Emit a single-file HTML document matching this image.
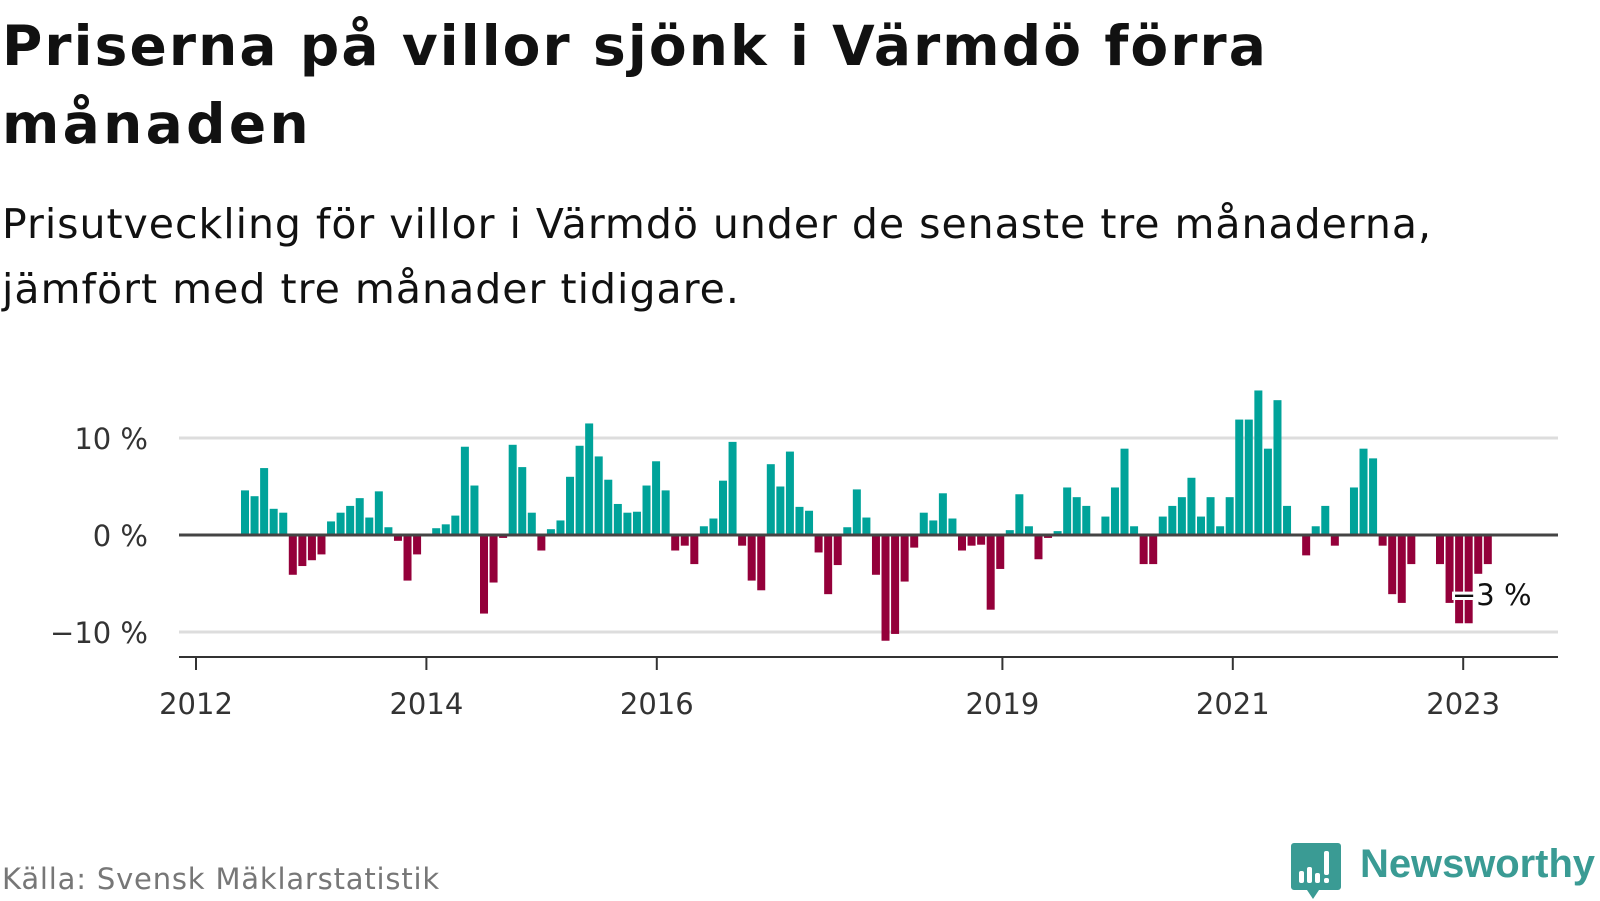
<!DOCTYPE html>
<html><head><meta charset="utf-8">
<style>
body{margin:0;background:#fff;width:1600px;height:900px;overflow:hidden;font-family:"DejaVu Sans","Liberation Sans",sans-serif;}
.ln{position:absolute;left:2px;white-space:nowrap;margin:0;color:#111}
.t{font-size:55px;font-weight:bold;}
.s{font-size:41px;}
#src{position:absolute;left:2px;top:862px;font-size:29px;color:#777;white-space:nowrap}
#logo{position:absolute;left:1291px;top:843px}
#logotext{position:absolute;left:1360px;top:842px;font-size:40px;font-weight:bold;color:#3a9b94;white-space:nowrap;font-family:"Liberation Sans",sans-serif}
</style></head><body>
<div>
<span class="ln t fit" data-w="1266" style="top:14px">Priserna på villor sjönk i Värmdö förra</span>
<span class="ln t fit" data-w="310" style="top:92px">månaden</span>
</div>
<div>
<span class="ln s fit" data-w="1430" style="top:200px">Prisutveckling för villor i Värmdö under de senaste tre månaderna,</span>
<span class="ln s fit" data-w="738" style="top:265px">jämfört med tre månader tidigare.</span>
</div>
<svg id="chart" width="1600" height="900" style="position:absolute;left:0;top:0"></svg>
<div id="src" class="fit" data-w="438">Källa: Svensk Mäklarstatistik</div>
<svg id="logo" width="50" height="58" viewBox="0 0 50 58">
<path d="M3 0H47A3 3 0 0 1 50 3V44A3 3 0 0 1 47 47H28L22 56L16 47H3A3 3 0 0 1 0 44V3A3 3 0 0 1 3 0Z" fill="#3a9b94"/>
<rect x="8" y="28" width="5" height="12" rx="2" fill="#fff"/><rect x="16" y="24" width="5" height="16" rx="2" fill="#fff"/><rect x="24" y="30" width="5" height="10" rx="2" fill="#fff"/><rect x="33" y="8" width="5" height="24" rx="2" fill="#fff"/><rect x="33" y="35" width="5" height="5" rx="2" fill="#fff"/>
</svg>
<div id="logotext" class="fit" data-w="235">Newsworthy</div>
<script>
const values=[4.6,4.0,6.9,2.7,2.3,-4.1,-3.2,-2.6,-2.0,1.4,2.3,3.0,3.8,1.8,4.5,0.8,-0.6,-4.7,-2.0,null,
0.7,1.1,2.0,9.1,5.1,-8.1,-4.9,-0.3,9.3,7.0,2.3,-1.6,0.6,1.5,6.0,9.2,11.5,8.1,5.7,3.2,2.3,2.4,
5.1,7.6,4.6,-1.6,-1.1,-3.0,0.9,1.7,5.6,9.6,-1.1,-4.7,-5.7,7.3,5.0,8.6,2.9,2.5,-1.8,-6.1,-3.1,
0.8,4.7,1.8,-4.1,-10.9,-10.2,-4.8,-1.3,2.3,1.5,4.3,1.7,-1.6,-1.1,-1.0,-7.7,-3.5,0.5,4.2,0.9,
-2.5,-0.3,0.4,4.9,3.9,3.0,null,1.9,4.9,8.9,0.9,-3.0,-3.0,1.9,3.0,3.9,5.9,1.9,3.9,0.9,3.9,
11.9,11.9,14.9,8.9,13.9,3.0,null,-2.1,0.9,3.0,-1.1,null,4.9,8.9,7.9,-1.1,-6.1,-7.0,-3.0,null,null,
-3.0,-7.0,-9.1,-9.1,-4.0,-3.0];
const yTicks=[10,0,-10];
const yTickLabels=["10 %","0 %","−10 %"];
const xTickYears=[2012,2014,2016,2019,2021,2023];
const lastLabel="−3 %";
const NS="http://www.w3.org/2000/svg";
const svg=document.getElementById('chart');
const y=v=>535-v*9.7;
const x=i=>241+i*9.56;
const xYear=yr=>196+(yr-2012)*115.2;
const FF='DejaVu Sans, Liberation Sans, sans-serif';
function mk(t,a,p){const e=document.createElementNS(NS,t);for(const k in a)e.setAttribute(k,a[k]);(p||svg).appendChild(e);return e;}
yTicks.forEach((t,i)=>{
 if(t!==0){const g=mk('line',{x1:179,x2:1558,y1:y(t),y2:y(t),stroke:'#ddd','stroke-width':3});
 
 }
 const l=mk('text',{x:148,y:y(t)+11,'text-anchor':'end','font-size':29,fill:'#333','font-family':FF});
 l.textContent=yTickLabels[i];
 
 
});
values.forEach((v,i)=>{
 if(v===null)return;
 const r=mk('rect',{x:x(i),width:8,y:v>=0?y(v):y(0),height:Math.abs(y(v)-y(0)),fill:v>=0?'#00a39a':'#94003a'});
 
 
});
const z=mk('line',{x1:179,x2:1558,y1:y(0),y2:y(0),stroke:'#444','stroke-width':3});


const ax=mk('line',{x1:179,x2:1558,y1:657,y2:657,stroke:'#333','stroke-width':2});


xTickYears.forEach(yr=>{
 const t=mk('line',{x1:xYear(yr),x2:xYear(yr),y1:657,y2:670,stroke:'#333','stroke-width':2});
 
 
 const l=mk('text',{x:xYear(yr),y:714,'text-anchor':'middle','font-size':29,fill:'#333','font-family':FF});
 l.textContent=yr;
 
 
});
const ll=mk('text',{x:1452,y:605,'font-size':29,fill:'#111',stroke:'#fff','stroke-width':6,'paint-order':'stroke','font-family':FF});
ll.textContent=lastLabel;


document.querySelectorAll('.fit').forEach(el=>{
 const target=+el.getAttribute('data-w');
 el.style.display='inline-block';
 const w=el.getBoundingClientRect().width;
 const n=el.textContent.length;
 el.style.letterSpacing=((target-w)/n)+'px';
});
</script>
</body></html>
